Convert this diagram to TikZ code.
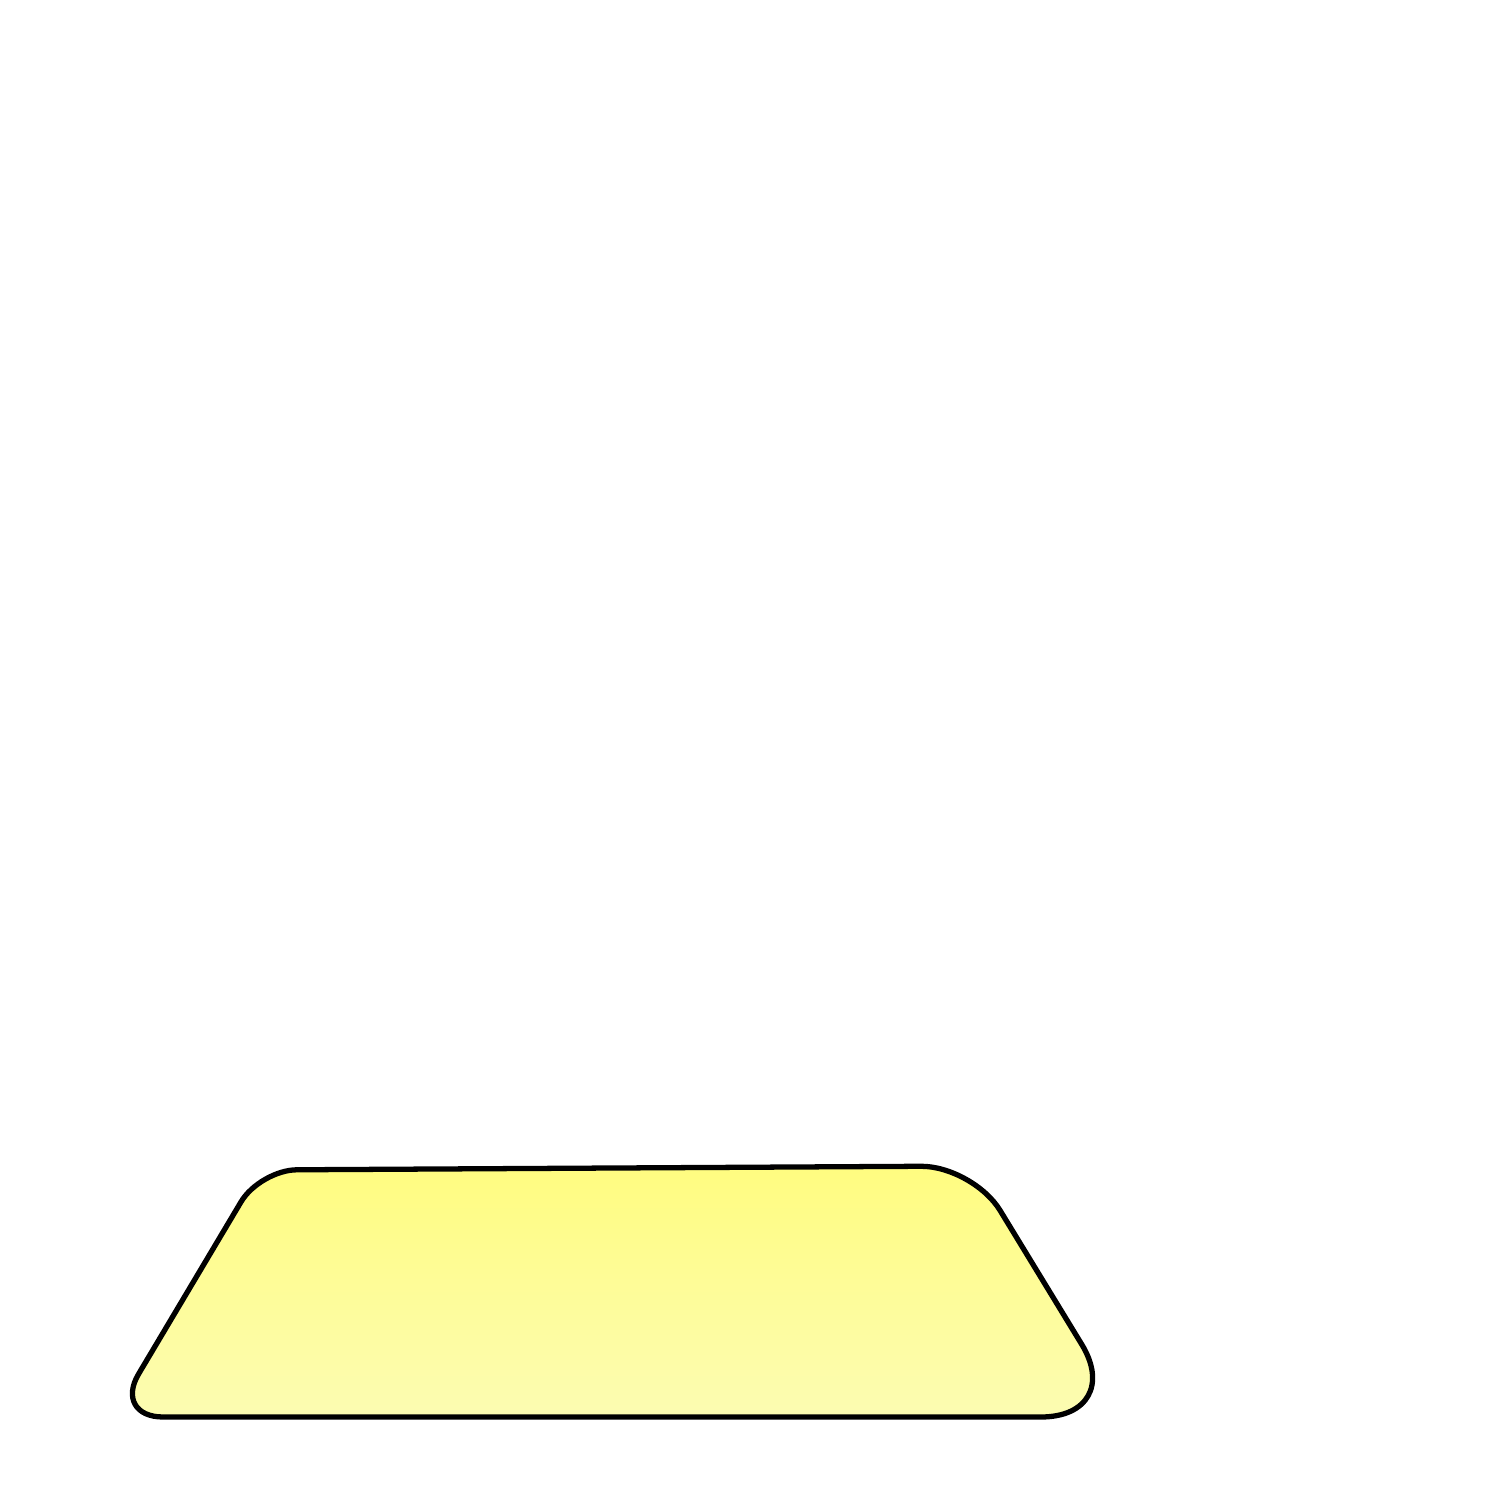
\documentclass[tikz,border=0pt]{standalone}
\begin{document}
\begin{tikzpicture}[line cap=round, line join=round]
  \definecolor{traytop}{RGB}{255,252,128}
  \definecolor{traybot}{RGB}{252,252,178}
  \useasboundingbox (0,0) rectangle (15,15);
  \coordinate (TL) at (2.60,3.30);
  \coordinate (TR) at (9.73,3.34);
  \coordinate (BR) at (11.26,0.83);
  \coordinate (BL) at (1.13,0.83);
  \coordinate (S) at (6,0.83);
  \draw[line width=1.5pt, top color=traytop, bottom color=traybot]
    (S) [rounded corners=8.5mm] -- (BR) [rounded corners=5.2mm] -- (TR)
    [rounded corners=3.7mm] -- (TL) [rounded corners=5mm] -- (BL) [sharp corners] -- cycle;
\end{tikzpicture}
\end{document}
